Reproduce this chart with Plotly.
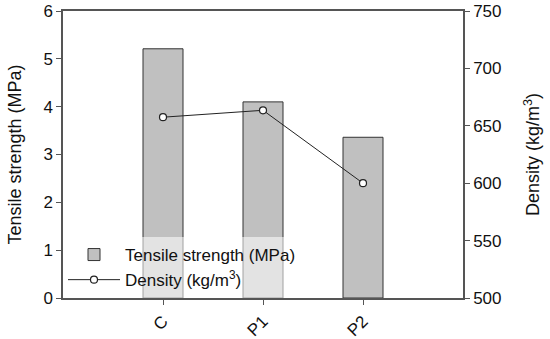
import plotly.graph_objects as go

categories = ["C", "P1", "P2"]
tensile = [5.21, 4.10, 3.36]
density = [657.5, 663.5, 600.0]

fig = go.Figure()
fig.add_trace(go.Bar(
    x=categories, y=tensile, name="Tensile strength (MPa)",
    marker=dict(color="#c0c0c0", line=dict(color="#333333", width=1)),
    width=0.4, yaxis="y",
))
fig.add_trace(go.Scatter(
    x=categories, y=density, name="Density (kg/m<sup>3</sup>)",
    mode="lines+markers", yaxis="y2",
    line=dict(color="#222222", width=1),
    marker=dict(symbol="circle", size=7, color="white", line=dict(color="#222222", width=1.2)),
))

axis_line = "#555555"
font_family = "Liberation Sans, Arial, sans-serif"
fig.update_layout(
    width=550, height=339,
    margin=dict(l=63, r=87, t=11, b=41, autoexpand=False),
    plot_bgcolor="white", paper_bgcolor="white",
    font=dict(family=font_family, size=17, color="#111111"),
    showlegend=True,
    legend=dict(x=0, y=0, xanchor="left", yanchor="bottom",
                bgcolor="rgba(255,255,255,0.55)", borderwidth=0,
                font=dict(size=17), tracegroupgap=0, itemwidth=52),
    xaxis=dict(
        range=[-1, 3], showline=True, linecolor=axis_line, linewidth=1.5,
        mirror=True, ticks="outside", ticklen=5, tickcolor=axis_line,
        tickangle=-45, tickfont=dict(size=17), showgrid=False, zeroline=False,
        automargin=False,
    ),
    yaxis=dict(
        range=[0, 6], dtick=1, showline=True, linecolor=axis_line, linewidth=1.5,
        ticks="outside", ticklen=5, tickcolor=axis_line, showgrid=False,
        zeroline=False, tickfont=dict(size=17), automargin=False,
        title=dict(text="Tensile strength (MPa)", font=dict(size=18), standoff=17),
    ),
    yaxis2=dict(
        range=[500, 750], dtick=50, overlaying="y", side="right",
        showline=True, linecolor=axis_line, linewidth=1.5,
        ticks="outside", ticklen=5, tickcolor=axis_line, showgrid=False,
        zeroline=False, tickfont=dict(size=17), automargin=False,
        title=dict(text="Density (kg/m<sup>3</sup>)", font=dict(size=18), standoff=26),
    ),
)

fig.write_html(
    "out.html",
    config={"displayModeBar": False},
    post_script="document.body.style.margin='0';document.body.style.overflow='hidden';",
)
